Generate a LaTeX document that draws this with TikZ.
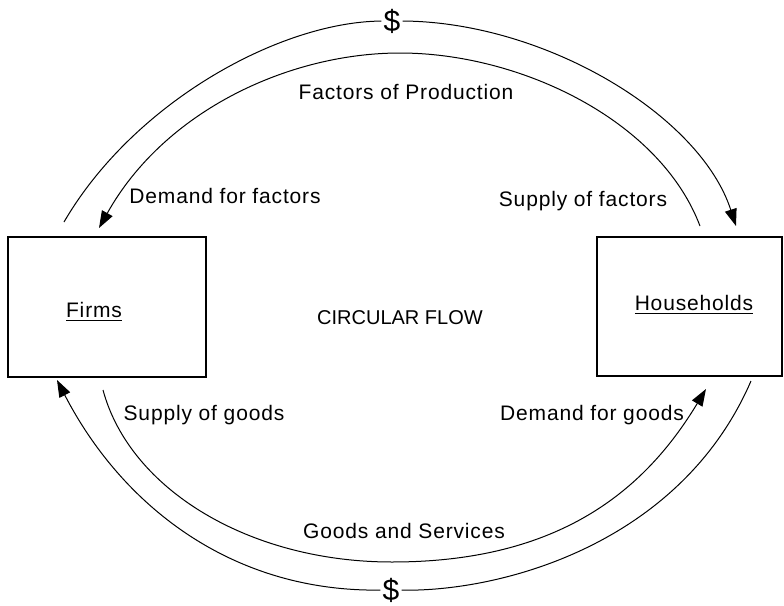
\documentclass[tikz,border=0pt]{standalone}
\usepackage{fontspec}
\setmainfont[LetterSpace=4]{Liberation Sans}
\usetikzlibrary{arrows.meta}

\begin{document}
\begin{tikzpicture}[x=0.5pt,y=-0.5pt,
        every node/.style={inner sep=0pt, font=\fontsize{10.5}{12}\selectfont},
        sector/.style={draw=black, line width=0.7pt, rectangle},
        flow/.style={draw=black, line width=0.5pt, -{Triangle[length=8.5pt,width=6pt]}},
        cash/.style={font=\fontsize{15}{16}\selectfont, inner sep=1pt}]
        \useasboundingbox (0,0) rectangle (784,606);
        % the two sectors
        \node [sector, minimum width=99pt, minimum height=70pt] (firms) at (107,307) {};
        \node [sector, minimum width=92.5pt, minimum height=69.5pt] (households) at (689.5,306.5) {};
        \node [anchor=base] (firmsname) at (94,317) {\underline{Firms}};
        \node [anchor=base] (hhname) at (694,310) {\underline{Households}};
        \node [anchor=base] (title) at (400,324) {\fontsize{10}{12}\selectfont\addfontfeature{LetterSpace=0}CIRCULAR FLOW};
        % money
        \node [cash, anchor=base] (topcash) at (392,31) {\$};
        \node [cash, anchor=base] (botcash) at (391,600) {\$};
        % free ends of the flows
        \coordinate (outA) at (64,222);
        \coordinate (outB) at (736,226);
        \coordinate (inA) at (99,228);
        \coordinate (inB) at (700,226);
        \coordinate (inC) at (103,390);
        \coordinate (inD) at (706,389);
        \coordinate (outC) at (751,381);
        \coordinate (outD) at (57,380);
        \draw [flow] (outA) .. controls (134,102) and (280,22) .. (topcash) .. controls (545,22) and (700,115) .. (outB);
        \draw [flow] (inB) .. controls (660,120) and (520,53) .. (400,53) .. controls (290,53) and (165,110) .. (inA);
        \draw [flow] (inC) .. controls (130,490) and (250,562) .. (392,562) .. controls (560,562) and (645,490) .. (inD);
        \draw [flow] (outC) .. controls (680,545) and (500,592) .. (botcash) .. controls (230,592) and (121,504) .. (outD);
        % labels
        \node [anchor=base] (factors) at (406,99) {Factors of Production};
        \node [anchor=base] (demandf) at (225,203) {Demand for factors};
        \node [anchor=base] (supplyf) at (583,206) {Supply of factors};
        \node [anchor=base] (supplyg) at (204,420) {Supply of goods};
        \node [anchor=base] (demandg) at (592,420) {Demand for goods};
        \node [anchor=base] (goods) at (404,538) {Goods and Services};
\end{tikzpicture}
\end{document}
